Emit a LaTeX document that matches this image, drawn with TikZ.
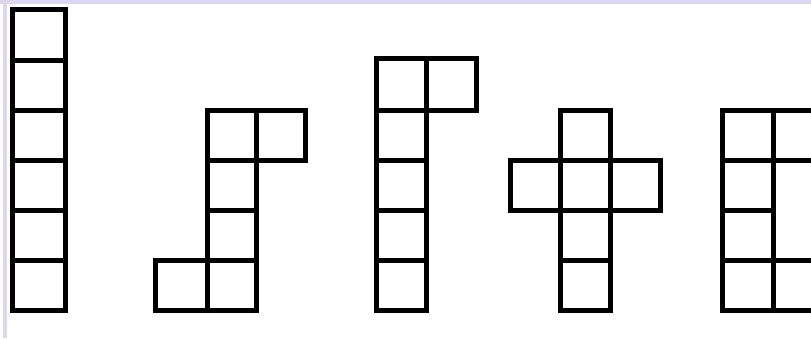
\documentclass[tikz,border=0pt]{standalone}
\definecolor{lav}{HTML}{DCD6EE}
\begin{document}
\begin{tikzpicture}[x=1pt,y=-1pt,
  cellline/.style={draw=black,line width=5pt,line join=miter,line cap=rect}]
\useasboundingbox (0,0) rectangle (811,338);
\clip (0,0) rectangle (811,338);
\fill[white] (0,0) rectangle (811,338);
\fill[lav] (0,0) rectangle (811,4);
\fill[lav] (3,0) rectangle (7,338);
% shape 1: column of six
\foreach \ya/\yb in {9/60,60/110,110/160,160/210,210/260,260/310}
  \draw[cellline] (12,\ya) rectangle (65,\yb);
% shape 2
\foreach \xa/\ya/\xb/\yb in {207/110/256/160,256/110/305/160,207/160/256/210,207/210/256/260,155/260/207/310,207/260/256/310}
  \draw[cellline] (\xa,\ya) rectangle (\xb,\yb);
% shape 3
\foreach \xa/\ya/\xb/\yb in {376/58/426/110,426/58/476/110,376/110/426/160,376/160/426/210,376/210/426/260,376/260/426/310}
  \draw[cellline] (\xa,\ya) rectangle (\xb,\yb);
% shape 4: cross
\foreach \xa/\ya/\xb/\yb in {560/110/610/160,510/160/560/210,560/160/610/210,610/160/660/210,560/210/610/260,560/260/610/310}
  \draw[cellline] (\xa,\ya) rectangle (\xb,\yb);
% shape 5
\foreach \ya/\yb in {110/160,160/210,210/260,260/310}
  \draw[cellline] (722,\ya) rectangle (773,\yb);
\foreach \y in {110,160,260,310}
  \draw[cellline] (773,\y) -- (830,\y);
\end{tikzpicture}
\end{document}
